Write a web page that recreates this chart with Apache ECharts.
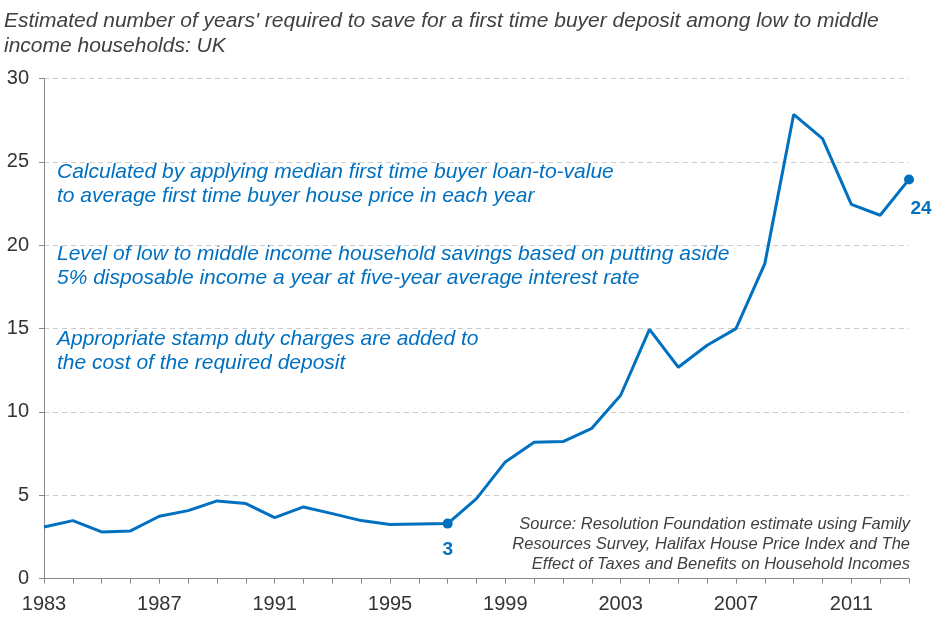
<!DOCTYPE html>
<html>
<head>
<meta charset="utf-8">
<script src="https://cdn.jsdelivr.net/npm/echarts@6/dist/echarts.min.js"></script>
<style>
  html, body { margin: 0; padding: 0; background: #fff; }
  #chart { width: 945px; height: 620px; }
</style>
</head>
<body>
<div id="chart"></div>
<script>
// years on the x axis
var years = [];
for (var y = 1983; y <= 2013; y++) years.push(String(y));

// estimated years needed to save a deposit
var yearsToSave = [3.1, 3.48, 2.8, 2.86, 3.74, 4.08, 4.66, 4.5, 3.66, 4.3,
  3.9, 3.48, 3.24, 3.28, 3.3, 4.8, 7.0, 8.18, 8.22, 9.02,
  11.0, 14.95, 12.68, 14.0, 15.0, 18.9, 27.85, 26.4, 22.45, 21.8, 23.95];

// points that get a dot and a label
var highlightIdx = [14, 30];

var titleLines = [
  "Estimated number of years' required to save for a first time buyer deposit among low to middle",
  "income households: UK"
];
var notes = [
  ["Calculated by applying median first time buyer loan-to-value", "to average first time buyer house price in each year"],
  ["Level of low to middle income household savings based on putting aside", "5% disposable income a year at five-year average interest rate"],
  ["Appropriate stamp duty charges are added to", "the cost of the required deposit"]
];
var sourceLines = [
  "Source: Resolution Foundation estimate using Family",
  "Resources Survey, Halifax House Price Index and The",
  "Effect of Taxes and Benefits on Household Incomes"
];

var blue = '#0070C0';
var font = '"Liberation Sans", Arial, sans-serif';

var seriesData = yearsToSave.map(function (v, i) {
  if (highlightIdx.indexOf(i) < 0) return v;
  return {
    value: v,
    symbol: 'circle',
    symbolSize: 10,
    label: {
      show: true,
      position: 'bottom',
      distance: 12,
      offset: i === 30 ? [12, 3] : [0, 0],
      formatter: function (p) { return Math.round(p.value); },
      color: blue, fontWeight: 'bold', fontSize: 19, fontFamily: font
    }
  };
});

var texts = [];
titleLines.forEach(function (t, i) {
  texts.push({ type: 'text', left: 4, top: 11 + i * 25,
    style: { text: t, fill: '#404040', font: 'italic 21px ' + font } });
});
var noteTops = [162, 244, 329];
notes.forEach(function (pair, k) {
  pair.forEach(function (t, i) {
    texts.push({ type: 'text', left: 57, top: noteTops[k] + i * 24,
      style: { text: t, fill: blue, font: 'italic 21px ' + font } });
  });
});
sourceLines.forEach(function (t, i) {
  texts.push({ type: 'text', right: 35, top: 516 + i * 20,
    style: { text: t, fill: '#404040', font: 'italic 16.5px ' + font, textAlign: 'right' } });
});

var chart = echarts.init(document.getElementById('chart'));
chart.setOption({
  animation: false,
  grid: { left: 44, right: 36, top: 78.6, bottom: 41.4, containLabel: false },
  xAxis: {
    type: 'category',
    data: years,
    boundaryGap: false,
    axisLine: { lineStyle: { color: '#888', width: 1 } },
    axisTick: { show: true, interval: 0, length: 5, lineStyle: { color: '#888' } },
    axisLabel: { interval: 3, color: '#333', fontSize: 20, fontFamily: font, margin: 16 },
    splitLine: { show: false }
  },
  yAxis: {
    type: 'value',
    min: 0, max: 30, interval: 5,
    axisLine: { show: true, lineStyle: { color: '#888', width: 1 } },
    axisTick: { show: true, length: 5, lineStyle: { color: '#888' } },
    axisLabel: { color: '#333', fontSize: 20, fontFamily: font, margin: 15 },
    splitLine: { show: true, lineStyle: { color: '#ccc', type: [5, 4], width: 1 } }
  },
  series: [{
    type: 'line',
    data: seriesData,
    symbol: 'none',
    showSymbol: true,
    itemStyle: { color: blue },
    lineStyle: { color: blue, width: 3 },
    z: 5
  }],
  graphic: texts
});
</script>
</body>
</html>
